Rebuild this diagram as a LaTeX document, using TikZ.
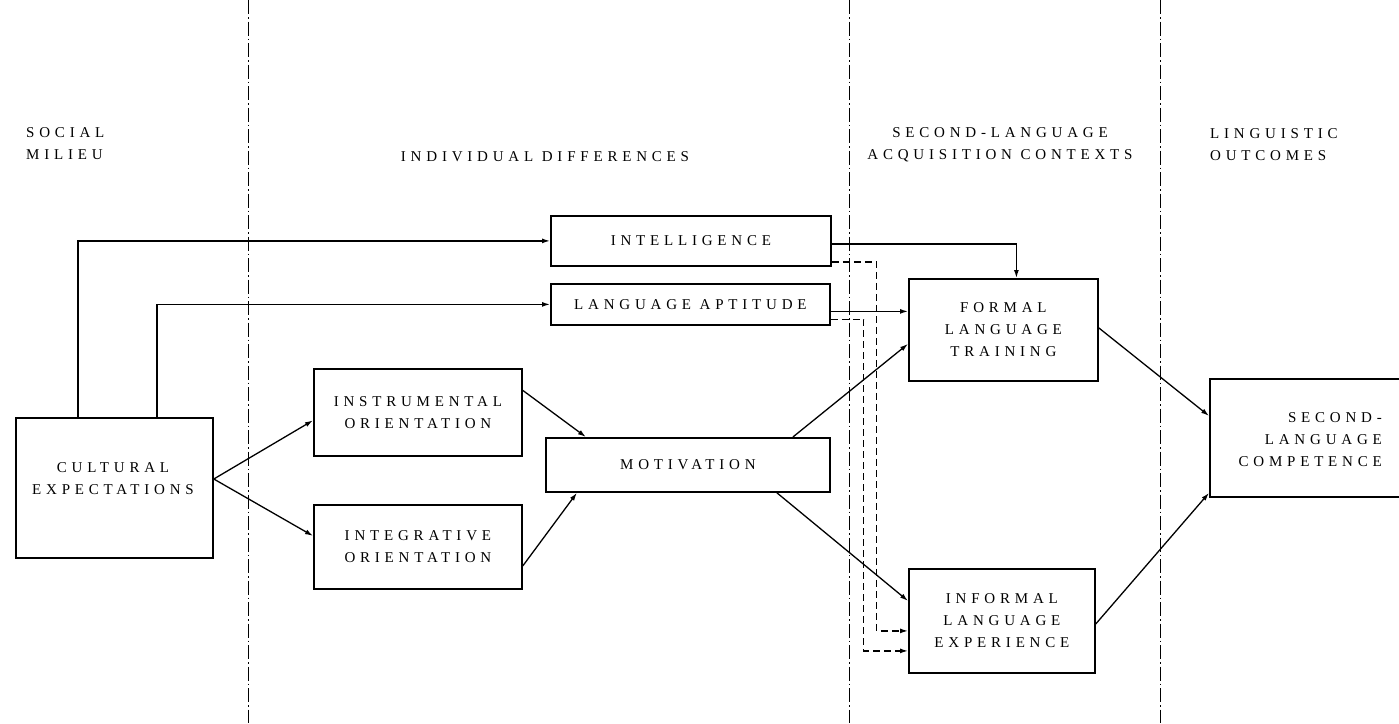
\documentclass[tikz,border=0pt]{standalone}
\usepackage{fontspec}
\setmainfont[LetterSpace=32]{Liberation Serif}
\usetikzlibrary{arrows.meta}
\begin{document}
\begin{tikzpicture}[x=1pt,y=-1pt,
  box/.style={draw, line width=1.8pt, inner sep=0pt, anchor=north west,
    font=\fontsize{15}{22}\selectfont, align=center},
  lbl/.style={font=\fontsize{15}{22}\selectfont, inner sep=0pt},
  conn/.style={line width=1.3pt, -{Latex[length=8pt,width=5pt]}},
  dconn/.style={conn, dash pattern=on 7pt off 4pt},
  divider/.style={line width=1pt, dash pattern=on 14pt off 3pt on 1.5pt off 3pt}]
\useasboundingbox (0,0) rectangle (1399,723);
\clip (0,0) rectangle (1399,723);
\fill[white] (0,0) rectangle (1399,723);

% column dividers
\draw[divider] (248,0) -- (248,723);
\draw[divider] (849,0) -- (849,723);
\draw[divider] (1160,0) -- (1160,723);

% headings
\node[lbl, anchor=west, align=left] (hsoc) at (26,144) {SOCIAL\\MILIEU};
\node[lbl] (hind) at (545,157) {INDIVIDUAL DIFFERENCES};
\node[lbl, align=center] (hsla) at (1000,145) {SECOND-LANGUAGE\\ACQUISITION CONTEXTS};
\node[lbl, anchor=west, align=left] (hlo) at (1210,145) {LINGUISTIC\\OUTCOMES};

% boxes
\node[box, minimum width=197pt, minimum height=140pt] (ce) at (15,417) {};
\node[lbl, align=center] (cet) at (113,479) {CULTURAL\\EXPECTATIONS};
\node[box, minimum width=208pt, minimum height=87pt] (io) at (313,368) {INSTRUMENTAL\\ORIENTATION};
\node[box, minimum width=208pt, minimum height=84pt] (ig) at (313,504) {INTEGRATIVE\\ORIENTATION};
\node[box, minimum width=284pt, minimum height=54pt] (mot) at (545,437) {MOTIVATION};
\node[box, minimum width=280pt, minimum height=50pt] (int) at (550,215) {INTELLIGENCE};
\node[box, minimum width=279pt, minimum height=41pt] (la) at (550,283) {LANGUAGE APTITUDE};
\node[box, minimum width=189pt, minimum height=102pt] (fl) at (908,278) {FORMAL\\LANGUAGE\\TRAINING};
\node[box, minimum width=186pt, minimum height=104pt] (il) at (908,568) {INFORMAL\\LANGUAGE\\EXPERIENCE};
\node[box, minimum width=200pt, minimum height=118pt] (slc) at (1209,378) {};
\node[lbl, anchor=east, align=right] (slct) at (1382,440) {SECOND-\\LANGUAGE\\COMPETENCE};

% connectors
\coordinate (ceout) at ([yshift=-62pt]ce.north east);
\draw[conn] (ceout) -- ([yshift=-8pt]io.west);
\draw[conn] (ceout) -- ([yshift=11pt]ig.west);
\draw[conn] ([yshift=22pt]io.east) -- ([xshift=-102pt]mot.north);
\draw[conn] ([yshift=-19pt]ig.east) -- ([xshift=-111pt]mot.south);
\draw[conn] ([xshift=105pt]mot.north) -- ([yshift=-14pt]fl.west);
\draw[conn] ([xshift=89pt]mot.south) -- ([yshift=20pt]il.west);
\draw[conn] ([yshift=2pt]fl.east) -- ([yshift=22pt]slc.west);
\draw[conn] ([yshift=-3pt]il.east) -- ([yshift=-55pt]slc.west);
\draw[conn] ([xshift=63pt]ce.north west) |- (int.west);
\draw[conn] ([xshift=142pt]ce.north west) |- (la.west);
\draw[conn] ([yshift=-3pt]int.east) -| ([xshift=13pt]fl.north);
\coordinate (laout) at ([yshift=-7pt]la.east);
\draw[conn] (laout) -- (laout -| fl.west);
\coordinate (intd) at ([yshift=-21pt]int.east);
\draw[dconn] (intd) -- ++(45,0) |- ([yshift=-10pt]il.west);
\coordinate (lad) at ([yshift=-15pt]la.east);
\draw[dconn] (lad) -- ++(33,0) |- ([yshift=-30pt]il.west);
\end{tikzpicture}
\end{document}
